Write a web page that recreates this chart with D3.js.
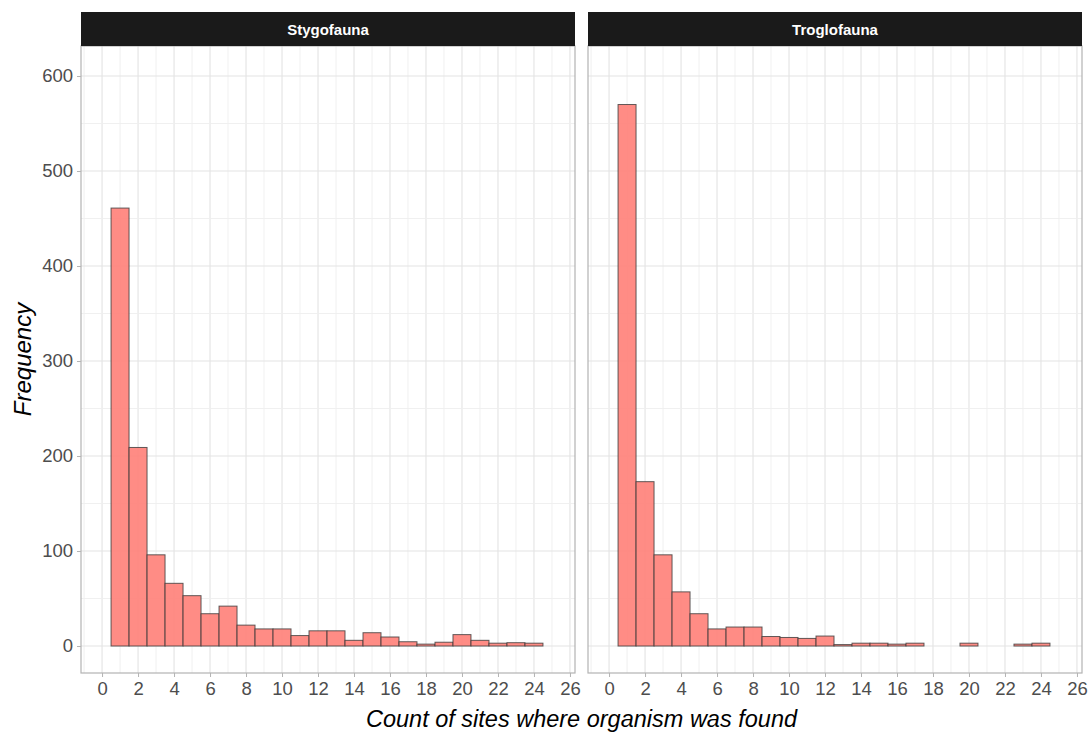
<!DOCTYPE html>
<html lang="en">
<head>
  <meta charset="UTF-8">
  <title>Sites per organism</title>
  <script src="https://d3js.org/d3.v7.min.js"></script>
  <style>
    body { margin: 0; background: #fff; }
    text { font-family: "Liberation Sans", Arial, sans-serif; }
  </style>
</head>
<body>
  <div id="chart"></div>
  <script>
    // data (frequency per site count, bins 1..24)
    const facets = ["Stygofauna", "Troglofauna"];
    const siteCounts = d3.range(1, 25);
    const stygofauna = [461, 209, 96, 66, 53, 34, 42, 22, 18, 18, 11, 16, 16, 6, 14, 9.5, 4.5, 2, 4, 12, 6, 3, 3.5, 3];
    const troglofauna = [570, 173, 96, 57, 34, 18, 20, 20, 10, 9, 8, 10.5, 1.5, 3, 3, 2, 3, 0, 0, 3, 0, 0, 2, 3];
    const seriesValues = [stygofauna, troglofauna];
    const yTicks = [0, 100, 200, 300, 400, 500, 600];
    const xTicks = d3.range(0, 27, 2);

    const width = 1088;
    const height = 733;
    const panels = [{ x0: 81, x1: 575 }, { x0: 588, x1: 1082 }];
    const stripTop = 12, plotTop = 46, plotBottom = 673;

    const svg = d3.select("#chart").append("svg")
      .attr("width", width)
      .attr("height", height);

    const y = d3.scaleLinear()
      .domain([-28.4, 631.6])
      .range([plotBottom, plotTop]);

    panels.forEach((p, k) => {
      const x = d3.scaleLinear()
        .domain([-1.17, 26.28])
        .range([p.x0, p.x1]);

      const g = svg.append("g");

      // grid: vertical at every integer, horizontal every 50
      g.selectAll(".vgrid")
        .data(d3.range(-1, 27))
        .enter().append("line")
        .attr("x1", d => x(d)).attr("x2", d => x(d))
        .attr("y1", plotTop).attr("y2", plotBottom)
        .attr("stroke", d => d % 2 === 0 ? "#e3e3e3" : "#eeeeee")
        .attr("stroke-width", d => d % 2 === 0 ? 1.1 : 0.9);

      g.selectAll(".hgrid")
        .data(d3.range(0, 651, 50))
        .enter().append("line")
        .attr("x1", p.x0).attr("x2", p.x1)
        .attr("y1", d => y(d)).attr("y2", d => y(d))
        .attr("stroke", d => d % 100 === 0 ? "#e3e3e3" : "#eeeeee")
        .attr("stroke-width", d => d % 100 === 0 ? 1.1 : 0.9);

      // bars
      const vals = seriesValues[k];
      g.selectAll(".bar")
        .data(siteCounts.map((c, i) => ({ c, v: vals[i] })).filter(d => d.v > 0))
        .enter().append("rect")
        .attr("x", d => x(d.c - 0.5))
        .attr("width", d => x(d.c + 0.5) - x(d.c - 0.5))
        .attr("y", d => y(d.v))
        .attr("height", d => y(0) - y(d.v))
        .attr("fill", "#ff7f78")
        .attr("fill-opacity", 0.9)
        .attr("stroke", "#3a3a3a")
        .attr("stroke-opacity", 0.8)
        .attr("stroke-width", 1);

      // panel border
      g.append("rect")
        .attr("x", p.x0).attr("y", plotTop)
        .attr("width", p.x1 - p.x0).attr("height", plotBottom - plotTop)
        .attr("fill", "none")
        .attr("stroke", "#b3b3b3")
        .attr("stroke-width", 1.2);

      // strip
      g.append("rect")
        .attr("x", p.x0).attr("y", stripTop)
        .attr("width", p.x1 - p.x0).attr("height", plotTop - stripTop)
        .attr("fill", "#1a1a1a");
      g.append("text")
        .attr("x", (p.x0 + p.x1) / 2)
        .attr("y", (stripTop + plotTop) / 2 + 5.5)
        .attr("text-anchor", "middle")
        .attr("font-size", 15)
        .attr("font-weight", "bold")
        .attr("fill", "#fff")
        .text(facets[k]);

      // x axis
      const xAxis = g.append("g")
        .attr("transform", `translate(0,${plotBottom})`)
        .call(d3.axisBottom(x).tickValues(xTicks).tickSize(4).tickPadding(5));
      xAxis.select(".domain").remove();
      xAxis.selectAll(".tick line").attr("stroke", "#b3b3b3");
      xAxis.selectAll("text")
        .attr("font-size", 18.5)
        .attr("fill", "#4d4d4d")
        .style("font-family", "'Liberation Sans', Arial, sans-serif");

      if (k === 0) {
        const yAxis = g.append("g")
          .attr("transform", `translate(${p.x0},0)`)
          .call(d3.axisLeft(y).tickValues(yTicks).tickSize(4).tickPadding(4));
        yAxis.select(".domain").remove();
        yAxis.selectAll(".tick line").attr("stroke", "#b3b3b3");
        yAxis.selectAll("text")
          .attr("font-size", 18.5)
          .attr("fill", "#4d4d4d")
          .style("font-family", "'Liberation Sans', Arial, sans-serif");
      }
    });

    // axis titles
    svg.append("text")
      .attr("transform", `translate(31,${(plotTop + plotBottom) / 2}) rotate(-90)`)
      .attr("text-anchor", "middle")
      .attr("font-size", 24)
      .attr("font-style", "italic")
      .attr("fill", "#000")
      .text("Frequency");

    svg.append("text")
      .attr("x", (panels[0].x0 + panels[1].x1) / 2)
      .attr("y", 727)
      .attr("text-anchor", "middle")
      .attr("font-size", 23.5)
      .attr("font-style", "italic")
      .attr("fill", "#000")
      .text("Count of sites where organism was found");
  </script>
</body>
</html>
